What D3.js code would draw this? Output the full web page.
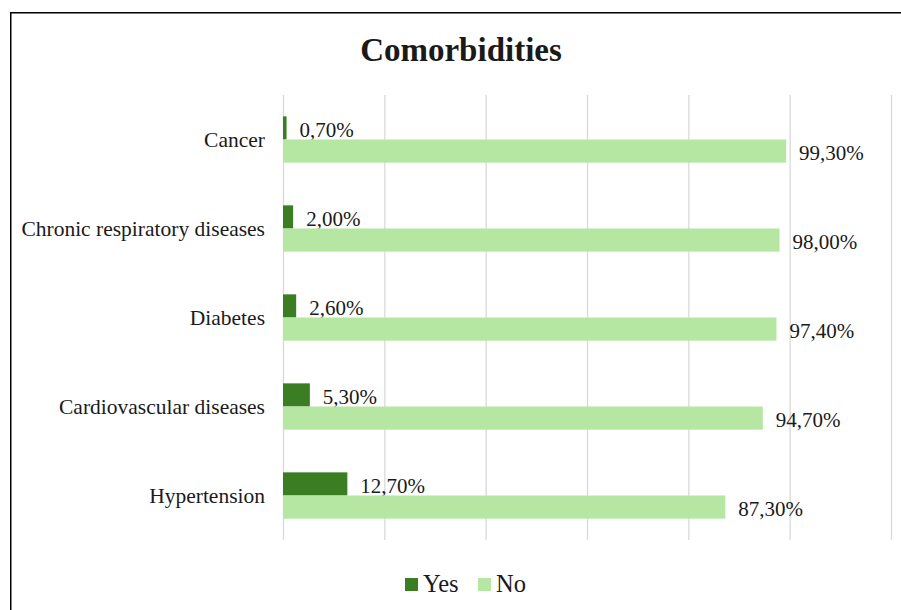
<!DOCTYPE html>
<html>
<head>
<meta charset="utf-8">
<script src="https://cdn.jsdelivr.net/npm/d3@7"></script>
<style>
  html, body { margin: 0; padding: 0; background: #fff; }
  svg { display: block; }
  text { font-family: "Liberation Serif", "Times New Roman", serif; fill: #1a1a1a; }
</style>
</head>
<body>
<svg id="chart" width="901" height="610"></svg>
<script>
// Comorbidity prevalence, share of respondents (%)
const categories = ["Cancer", "Chronic respiratory diseases", "Diabetes", "Cardiovascular diseases", "Hypertension"];
const yesValues = [0.7, 2.0, 2.6, 5.3, 12.7];
const noValues  = [99.3, 98.0, 97.4, 94.7, 87.3];
const gridTicks = [0, 20, 40, 60, 80, 100, 120];
const seriesNames = ["Yes", "No"];
const seriesColors = ["#3a7d22", "#b5e6a2"];

const svg = d3.select("#chart");
const W = 901, H = 610;

// outer chart frame
svg.append("rect")
  .attr("x", 10.75).attr("y", 12.75)
  .attr("width", W + 10).attr("height", H + 10)
  .attr("fill", "#fff").attr("stroke", "#000").attr("stroke-width", 1.5);

const plot = { left: 283, right: 891, top: 95, bottom: 540 };

const x = d3.scaleLinear().domain([0, 120]).range([plot.left, plot.right]);
const y = d3.scaleBand().domain(categories).range([plot.top, plot.bottom]).paddingInner(0.48).paddingOuter(0.24);
const sub = d3.scaleBand().domain(seriesNames).range([0, y.bandwidth()]);

// vertical gridlines
const xAxis = d3.axisBottom(x).tickValues(gridTicks).tickSize(-(plot.bottom - plot.top)).tickFormat("");
const gx = svg.append("g").attr("transform", `translate(0,${plot.bottom})`).call(xAxis);
gx.select(".domain").remove();
gx.selectAll(".tick line").attr("stroke", "#d9d9d9").attr("stroke-width", 1.3);

// category labels
const yAxis = d3.axisLeft(y).tickSize(0).tickPadding(18);
const gy = svg.append("g").attr("transform", `translate(${plot.left},0)`).call(yAxis);
gy.select(".domain").remove();
gy.selectAll(".tick text")
  .attr("font-family", "Liberation Serif, Times New Roman, serif")
  .attr("font-size", 21.5).attr("fill", "#1a1a1a")
  .attr("dy", "0.33em");

const fmt = v => v.toFixed(2).replace(".", ",") + "%";

const series = [yesValues, noValues];
series.forEach((vals, si) => {
  const name = seriesNames[si];
  const g = svg.append("g");
  g.selectAll("rect")
    .data(categories)
    .join("rect")
    .attr("x", x(0))
    .attr("y", (c) => y(c) + sub(name))
    .attr("width", (c, i) => x(vals[i]) - x(0))
    .attr("height", sub.bandwidth())
    .attr("fill", seriesColors[si]);
  g.selectAll("text")
    .data(categories)
    .join("text")
    .attr("x", (c, i) => x(vals[i]) + 13)
    .attr("y", (c) => y(c) + sub(name) + sub.bandwidth() - 2.5)
    .attr("font-size", 21)
    .text((c, i) => fmt(vals[i]));
});

// title
svg.append("text")
  .attr("x", 461).attr("y", 61)
  .attr("text-anchor", "middle")
  .attr("font-size", 33).attr("font-weight", "bold")
  .attr("fill", "#000")
  .text("Comorbidities");

// legend
const legend = svg.append("g").attr("transform", "translate(405,578)");
const items = [{ name: "Yes", x: 0 }, { name: "No", x: 73 }];
items.forEach((it, i) => {
  legend.append("rect").attr("x", it.x).attr("y", 0).attr("width", 13).attr("height", 13).attr("fill", seriesColors[i]);
  legend.append("text").attr("x", it.x + 18).attr("y", 13.5)
    .attr("font-size", 24.5).text(it.name);
});
</script>
</body>
</html>
